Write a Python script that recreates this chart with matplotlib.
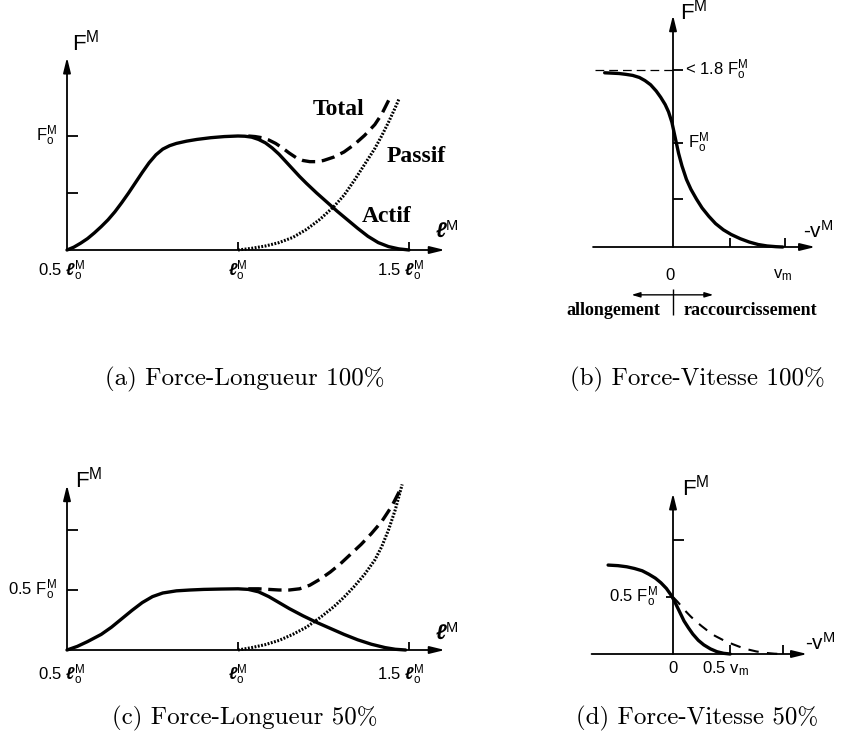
import numpy as np
import matplotlib.pyplot as plt

plt.rcParams['font.family'] = 'Liberation Sans'
plt.rcParams['mathtext.fontset'] = 'custom'
plt.rcParams['mathtext.rm'] = 'Liberation Sans'
plt.rcParams['mathtext.it'] = 'Liberation Sans:italic'
plt.rcParams['mathtext.bf'] = 'Liberation Sans:bold:italic'

# ---- data (x in l/l_o or v/v_m, y in F/F_o) ----
# (a) force-longueur 100%
a_active_x = [0.50, 0.52, 0.54, 0.56, 0.58, 0.60, 0.62, 0.64, 0.66, 0.68, 0.70, 0.72, 0.74, 0.76,
              0.78, 0.80, 0.82, 0.85, 0.88, 0.92, 0.96, 1.00, 1.02, 1.04, 1.06, 1.08, 1.10, 1.12,
              1.14, 1.16, 1.18, 1.20, 1.23, 1.26, 1.29, 1.32, 1.35, 1.38, 1.41, 1.44, 1.47, 1.50]
a_active_y = [0.00, 0.025, 0.06, 0.10, 0.15, 0.205, 0.265, 0.335, 0.415, 0.50, 0.59, 0.68, 0.765,
              0.835, 0.885, 0.915, 0.935, 0.955, 0.97, 0.985, 0.995, 1.00, 0.998, 0.99, 0.97, 0.94,
              0.895, 0.84, 0.775, 0.71, 0.645, 0.585, 0.50, 0.42, 0.34, 0.265, 0.19, 0.12, 0.065,
              0.03, 0.01, 0.0]
a_passive_x = [1.00, 1.04, 1.08, 1.12, 1.16, 1.20, 1.24, 1.28, 1.31, 1.34, 1.37, 1.40, 1.42, 1.44,
               1.46, 1.47]
a_passive_y = [0.00, 0.015, 0.035, 0.065, 0.11, 0.18, 0.27, 0.38, 0.48, 0.61, 0.75, 0.89, 1.00, 1.12,
               1.25, 1.32]
a_total_x = [1.03, 1.05, 1.07, 1.09, 1.11, 1.13, 1.15, 1.17, 1.19, 1.21, 1.23, 1.25, 1.28, 1.31,
             1.34, 1.37, 1.40, 1.42, 1.445]
a_total_y = [1.00, 0.995, 0.985, 0.965, 0.935, 0.895, 0.85, 0.81, 0.785, 0.775, 0.775, 0.785, 0.815,
             0.86, 0.925, 1.005, 1.10, 1.19, 1.34]

# (b) force-vitesse 100%
b_x = [-0.61, -0.55, -0.48, -0.42, -0.36, -0.30, -0.25, -0.20, -0.15, -0.11, -0.07, -0.04, -0.01,
       0.02, 0.05, 0.08, 0.12, 0.16, 0.21, 0.26, 0.32, 0.38, 0.45, 0.52, 0.60, 0.68, 0.76, 0.84,
       0.92, 0.98]
b_y = [1.675, 1.672, 1.668, 1.66, 1.65, 1.63, 1.60, 1.56, 1.50, 1.44, 1.37, 1.30, 1.20,
       1.05, 0.90, 0.78, 0.65, 0.555, 0.46, 0.375, 0.295, 0.225, 0.165, 0.12, 0.08, 0.048, 0.024,
       0.01, 0.003, 0.0]
b_fmax = 1.70

# (c) force-longueur 50%
c_active_x = [0.50, 0.53, 0.56, 0.60, 0.63, 0.66, 0.69, 0.72, 0.75, 0.78, 0.82, 0.86, 0.90, 0.95,
              1.00, 1.03, 1.06, 1.09, 1.12, 1.15, 1.19, 1.23, 1.27, 1.31, 1.35, 1.39, 1.43, 1.46,
              1.49]
c_active_y = [0.00, 0.03, 0.07, 0.13, 0.19, 0.26, 0.33, 0.395, 0.445, 0.475, 0.493, 0.50, 0.505,
              0.508, 0.51, 0.505, 0.485, 0.445, 0.395, 0.345, 0.285, 0.23, 0.18, 0.13, 0.085, 0.048,
              0.02, 0.006, 0.0]
c_passive_x = [1.00, 1.04, 1.08, 1.12, 1.16, 1.20, 1.24, 1.28, 1.31, 1.34, 1.37, 1.40, 1.42, 1.44,
               1.46, 1.48]
c_passive_y = [0.00, 0.02, 0.045, 0.08, 0.13, 0.19, 0.27, 0.36, 0.44, 0.53, 0.63, 0.75, 0.86, 1.00,
               1.17, 1.38]
c_total_x = [1.03, 1.06, 1.09, 1.12, 1.15, 1.18, 1.21, 1.24, 1.27, 1.30, 1.33, 1.36, 1.39, 1.42,
             1.45, 1.475]
c_total_y = [0.51, 0.51, 0.505, 0.50, 0.50, 0.51, 0.54, 0.59, 0.65, 0.72, 0.80, 0.88, 0.97, 1.07,
             1.20, 1.34]

# (d) force-vitesse 50%
d_solid_x = [-0.59, -0.50, -0.42, -0.35, -0.28, -0.22, -0.16, -0.11, -0.06, -0.02, 0.01, 0.04,
             0.07, 0.10, 0.14, 0.18, 0.23, 0.28, 0.34, 0.40, 0.46, 0.52]
d_solid_y = [0.78, 0.775, 0.765, 0.75, 0.73, 0.70, 0.665, 0.625, 0.575, 0.52, 0.47, 0.41,
             0.35, 0.29, 0.23, 0.175, 0.12, 0.08, 0.045, 0.02, 0.006, 0.0]
d_dash_x = [0.00, 0.04, 0.08, 0.12, 0.16, 0.21, 0.26, 0.32, 0.38, 0.45, 0.52, 0.60, 0.68, 0.76,
            0.84, 0.92, 0.98]
d_dash_y = [0.50, 0.46, 0.415, 0.37, 0.33, 0.285, 0.245, 0.20, 0.16, 0.125, 0.095, 0.065, 0.04,
            0.022, 0.01, 0.003, 0.0]

captions = ['(a) Force-Longueur 100%', '(b) Force-Vitesse 100%',
            '(c) Force-Longueur 50%', '(d) Force-Vitesse 50%']

W, H = 846, 734
fig = plt.figure(figsize=(W / 100, H / 100), dpi=100)

LO = r'$\mathbf{\ell}_{\rm o}^{\rm M}$'
FO = r'$\rm F_{o}^{M}$'
FM = r'$\rm F^{M}$'
SERIF_B = dict(family='Liberation Serif', weight='bold')


def panel(ox, oy, sx, sy, x0=0.0):
    # full-figure axes where data (x0, 0) sits at pixel (ox, oy)
    ax = fig.add_axes([0, 0, 1, 1])
    ax.set_xlim(x0 - ox / sx, x0 + (W - ox) / sx)
    ax.set_ylim(-(H - oy) / sy, oy / sy)
    ax.axis('off')
    ax.patch.set_visible(False)
    return ax


def arrow(ax, x0, y0, x1, y1, lw=1.3):
    ax.annotate('', xy=(x1, y1), xytext=(x0, y0),
                arrowprops=dict(arrowstyle='-|>,head_length=0.9,head_width=0.22',
                                color='black', lw=lw, shrinkA=0, shrinkB=0))


def seg(ax, xs, ys, lw=1.3):
    ax.plot(xs, ys, color='black', lw=lw, solid_capstyle='butt')


def curve(ax, xs, ys, **kw):
    ax.plot(xs, ys, color='black', solid_capstyle='round', solid_joinstyle='round', **kw)


# ---------------- (a) ----------------
sx, sy = 342, 114
ax = panel(67, 250, sx, sy, x0=0.5)
arrow(ax, 0.5, 0, 1.605, 0)
arrow(ax, 0.5, 0, 0.5, 1.69)
for yv in [0.5, 1.0]:
    seg(ax, [0.5, 0.5 + 11 / sx], [yv, yv])
for xv in [1.0, 1.5]:
    seg(ax, [xv, xv], [0, 8 / sy])
curve(ax, a_active_x, a_active_y, lw=2.4)
curve(ax, a_passive_x, a_passive_y, lw=2.2, linestyle=(0, (0.6, 0.5)))
curve(ax, a_total_x, a_total_y, lw=2.4, linestyle=(0, (4, 2)))
ax.text(0.515, 1.82, FM, fontsize=16, ha='left', va='center')
ax.text(0.47, 1.0, FO, fontsize=12, ha='right', va='center')
ax.text(0.483, -0.18, '0.5 ' + LO, fontsize=12, ha='center', va='center')
ax.text(1.0, -0.18, LO, fontsize=12, ha='center', va='center')
ax.text(1.475, -0.18, '1.5 ' + LO, fontsize=12, ha='center', va='center')
ax.text(1.576, 0.17, r'$\mathbf{\ell}^{\rm M}$', fontsize=15, ha='left', va='center')
ax.text(1.295, 1.23, 'Total', fontsize=17, ha='center', va='center', **SERIF_B)
ax.text(1.52, 0.82, 'Passif', fontsize=17, ha='center', va='center', **SERIF_B)
ax.text(1.436, 0.29, 'Actif', fontsize=17, ha='center', va='center', **SERIF_B)

# ---------------- (b) ----------------
sx, sy = 112, 104
ax = panel(673, 247, sx, sy)
arrow(ax, -0.714, 0, 1.27, 0)
arrow(ax, 0, 0, 0, 2.23)
for yv in [0.46, 1.0, b_fmax]:
    seg(ax, [0, 10 / sx], [yv, yv])
for xv in [0.51, 1.0]:
    seg(ax, [xv, xv], [0, 9 / sy])
ax.plot([-0.70, 0], [b_fmax, b_fmax], color='black', lw=0.9, linestyle=(0, (7, 4)))
curve(ax, b_x, b_y, lw=2.4)
ax.text(0.06, 2.26, FM, fontsize=16, ha='left', va='center')
ax.text(0.11, 1.70, '< 1.8 ' + FO, fontsize=12, ha='left', va='center')
ax.text(0.13, 1.0, FO, fontsize=12, ha='left', va='center')
ax.text(1.16, 0.16, '-v$^{\\rm M}$', fontsize=15, ha='left', va='center')
ax.text(-0.03, -0.27, '0', fontsize=12, ha='center', va='center')
ax.text(0.98, -0.27, 'v$_{\\rm m}$', fontsize=12, ha='center', va='center')
ax.annotate('', xy=(-0.37, -0.46), xytext=(0.36, -0.46),
            arrowprops=dict(arrowstyle='<|-|>,head_length=0.5,head_width=0.15',
                            color='black', lw=1.0, shrinkA=0, shrinkB=0))
seg(ax, [0, 0], [-0.40, -0.65], lw=1.0)
ax.text(-0.116, -0.615, 'allongement', fontsize=13, ha='right', va='center', **SERIF_B)
ax.text(0.09, -0.615, 'raccourcissement', fontsize=13, ha='left', va='center', **SERIF_B)

# ---------------- (c) ----------------
sx, sy = 342, 120
ax = panel(67, 650, sx, sy, x0=0.5)
arrow(ax, 0.5, 0, 1.605, 0)
arrow(ax, 0.5, 0, 0.5, 1.375)
for yv in [0.5, 1.0]:
    seg(ax, [0.5, 0.5 + 11 / sx], [yv, yv])
for xv in [1.0, 1.5]:
    seg(ax, [xv, xv], [0, 8 / sy])
curve(ax, c_active_x, c_active_y, lw=2.4)
curve(ax, c_passive_x, c_passive_y, lw=2.2, linestyle=(0, (0.6, 0.5)))
curve(ax, c_total_x, c_total_y, lw=2.4, linestyle=(0, (4, 2)))
ax.text(0.523, 1.42, FM, fontsize=16, ha='left', va='center')
ax.text(0.47, 0.5, '0.5 ' + FO, fontsize=12, ha='right', va='center')
ax.text(0.483, -0.21, '0.5 ' + LO, fontsize=12, ha='center', va='center')
ax.text(1.0, -0.21, LO, fontsize=12, ha='center', va='center')
ax.text(1.475, -0.21, '1.5 ' + LO, fontsize=12, ha='center', va='center')
ax.text(1.576, 0.14, r'$\mathbf{\ell}^{\rm M}$', fontsize=15, ha='left', va='center')

# ---------------- (d) ----------------
sx, sy = 110, 114
ax = panel(673, 654, sx, sy)
arrow(ax, -0.74, 0, 1.22, 0)
arrow(ax, 0, 0, 0, 1.41)
seg(ax, [0, 11 / sx], [1.0, 1.0])
seg(ax, [-7 / sx, 0], [0.5, 0.5])
for xv in [0.52, 1.0]:
    seg(ax, [xv, xv], [0, 9 / sy])
curve(ax, d_dash_x, d_dash_y, lw=1.5, linestyle=(0, (5, 4)))
curve(ax, d_solid_x, d_solid_y, lw=2.4)
ax.text(0.08, 1.46, FM, fontsize=16, ha='left', va='center')
ax.text(-0.14, 0.5, '0.5 ' + FO, fontsize=12, ha='right', va='center')
ax.text(1.2, 0.10, '-v$^{\\rm M}$', fontsize=15, ha='left', va='center')
ax.text(0.0, -0.13, '0', fontsize=12, ha='center', va='center')
ax.text(0.48, -0.13, '0.5 v$_{\\rm m}$', fontsize=12, ha='center', va='center')

# ---------------- captions ----------------
cap_pos = [(245, 379), (697, 379), (245, 718), (697, 718)]
for (cx, cy), txt in zip(cap_pos, captions):
    fig.text(cx / W, 1 - cy / H, txt, fontsize=18, ha='center', va='center',
             family=['cmr10', 'DejaVu Serif'])

fig.savefig('out.png', dpi=100)
